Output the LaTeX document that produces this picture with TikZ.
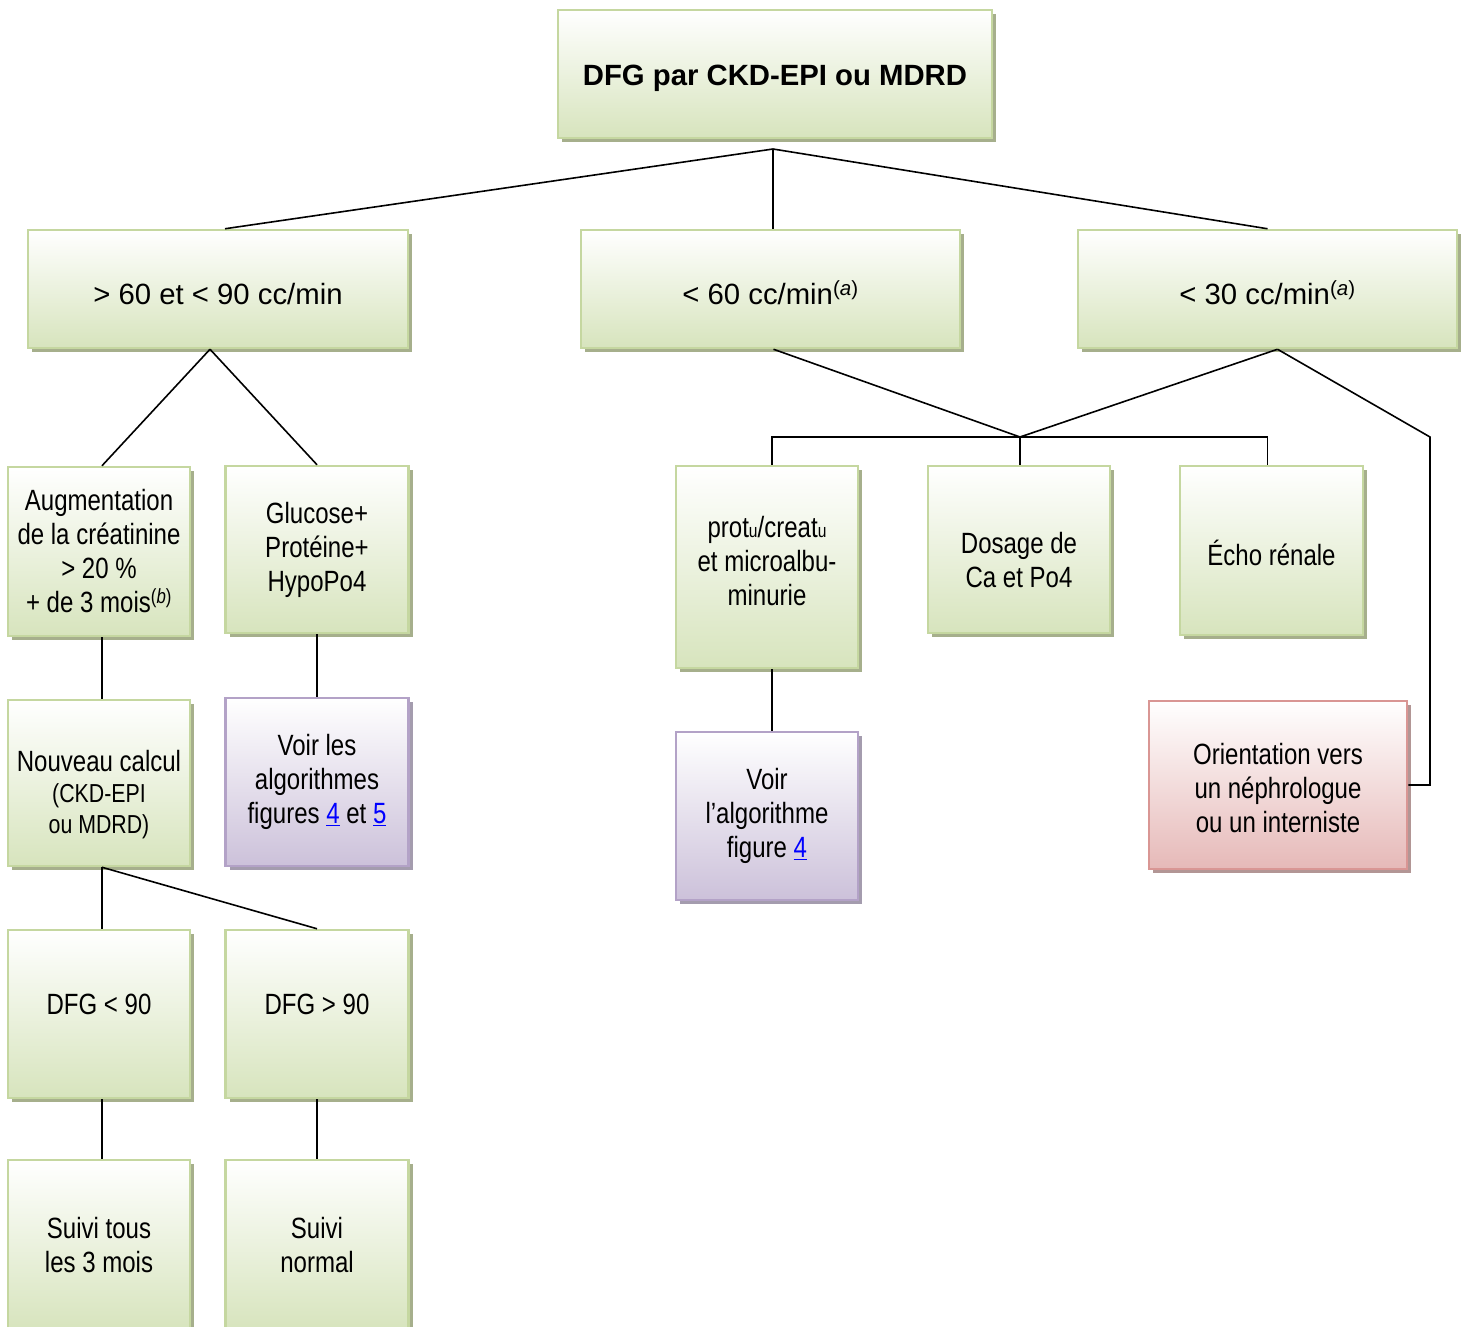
\documentclass[tikz,border=0pt]{standalone}
\usepackage{fontspec}
\setmainfont{Liberation Sans}
\newfontfamily\narrowfont[FakeStretch=0.82]{Liberation Sans}
\usetikzlibrary{shadows}

\definecolor{greenBottom}{RGB}{215,228,189}
\definecolor{greenLine}{RGB}{197,215,160}
\definecolor{greenShadow}{RGB}{166,175,140}
\definecolor{purpleBottom}{RGB}{204,193,218}
\definecolor{purpleLine}{RGB}{179,162,199}
\definecolor{purpleShadow}{RGB}{164,156,174}
\definecolor{redBottom}{RGB}{230,185,184}
\definecolor{redLine}{RGB}{217,150,148}
\definecolor{redShadow}{RGB}{178,150,149}

\newcommand{\noteref}[1]{\textsuperscript{(\textit{#1})}}
\newcommand{\figlink}[1]{\textcolor{blue}{\underline{#1}}}
\newcommand{\smallu}{{\fontsize{19}{19}\selectfont u}}
\newcommand{\pushdown}[1]{\rule{0pt}{#1}}
\newcommand{\pullup}[1]{\rule[-#1]{0pt}{#1}}

\begin{document}
\begin{tikzpicture}[x=1pt, y=-1pt]

        \tikzstyle{card}    = [rectangle, inner sep=0pt, line width=2.5pt, align=center,
            font=\narrowfont\fontsize{29.3}{34}\selectfont]
        \tikzstyle{stage}   = [card, draw=greenLine, top color=white, bottom color=greenBottom,
            general shadow={fill=greenShadow, shadow xshift=4pt, shadow yshift=-4pt}]
        \tikzstyle{see}     = [card, draw=purpleLine, top color=white, bottom color=purpleBottom,
            general shadow={fill=purpleShadow, shadow xshift=4pt, shadow yshift=-4pt}]
        \tikzstyle{refer}   = [card, draw=redLine, top color=white, bottom color=redBottom,
            general shadow={fill=redShadow, shadow xshift=4pt, shadow yshift=-4pt}]
        \tikzstyle{wide}    = [font=\fontsize{29.3}{34}\selectfont]
        \tikzstyle{link}    = [line width=1.6pt]

        \clip (0,0) rectangle (1465,1326);

        \node[stage, minimum width=434, minimum height=128, font=\bfseries\fontsize{29.3}{34}\selectfont]
                                                              at (775,74)      (dfg)       {\pushdown{30pt}DFG par CKD-EPI ou MDRD};
        \node[stage, wide, minimum width=380, minimum height=118] at (218,289)  (mild)      {\pushdown{32pt}> 60 et < 90 cc/min};
        \node[stage, wide, minimum width=379, minimum height=118] at (770.5,289) (moderate) {\pushdown{32pt}< 60 cc/min\noteref{a}};
        \node[stage, wide, minimum width=379, minimum height=118] at (1267.5,289) (severe) {\pushdown{32pt}< 30 cc/min\noteref{a}};

        \node[stage, minimum width=182, minimum height=169] at (99,551.5)   (rise)      {Augmentation\\de la créatinine\\> 20 \%\\+ de 3 mois\noteref{b}};
        \node[stage, minimum width=183, minimum height=167] at (317,549.5)  (tubular)   {Glucose+\\Protéine+\\HypoPo4};
        \node[stage, minimum width=182, minimum height=166] at (99,783)     (recalc)    {\pushdown{44pt}Nouveau calcul\\[-3pt]{\fontsize{26}{31}\selectfont(CKD-EPI}\\[-3pt]{\fontsize{26}{31}\selectfont ou MDRD)}};
        \node[see,   minimum width=183, minimum height=168] at (317,782)    (algoBoth)  {Voir les\\algorithmes\\figures \figlink{4} et \figlink{5}};
        \node[stage, minimum width=182, minimum height=168] at (99,1014)    (below)     {DFG < 90\pullup{20pt}};
        \node[stage, minimum width=183, minimum height=168] at (317,1014)   (above)     {DFG > 90\pullup{20pt}};
        \node[stage, minimum width=182, minimum height=170] at (99,1245)    (quarterly) {Suivi tous\\les 3 mois};
        \node[stage, minimum width=183, minimum height=170] at (317,1245)   (usual)     {Suivi\\normal};

        \node[stage, minimum width=182, minimum height=202] at (767,567)    (proteinuria) {prot\smallu/creat\smallu\\et microalbu-\\minurie\pullup{12pt}};
        \node[stage, minimum width=182, minimum height=167] at (1019,549.5) (calcium)   {\pushdown{43pt}Dosage de\\Ca et Po4};
        \node[stage, minimum width=183, minimum height=169] at (1271.5,550.5) (echo)    {\pushdown{30pt}Écho rénale};
        \node[see,   minimum width=182, minimum height=168] at (767,816)    (algoOne)   {Voir\\l’algorithme\\figure \figlink{4}};
        \node[refer, minimum width=258, minimum height=168] at (1278,785)   (specialist) {\pushdown{28pt}Orientation vers\\un néphrologue\\ou un interniste};

        \coordinate (hub)   at (773,149);
        \coordinate (bus)   at (1020,437);
        \coordinate (elbow) at (1430,437);

        \draw[link] (hub) -- ([xshift=7pt]mild.north);
        \draw[link] (hub) -- (hub |- moderate.north);
        \draw[link] (hub) -- (severe.north);

        \draw[link] ([xshift=-8pt]mild.south) -- ([xshift=3pt]rise.north);
        \draw[link] ([xshift=-8pt]mild.south) -- (tubular.north);
        \draw[link] ([xshift=3pt]rise.south)  -- ([xshift=3pt]recalc.north);
        \draw[link] (tubular.south)           -- (algoBoth.north);
        \draw[link] ([xshift=3pt]recalc.south) -- ([xshift=3pt]below.north);
        \draw[link] ([xshift=3pt]recalc.south) -- (above.north);
        \draw[link] ([xshift=3pt]below.south) -- ([xshift=3pt]quarterly.north);
        \draw[link] (above.south)             -- (usual.north);

        \draw[link] ([xshift=3pt]moderate.south) -- (bus);
        \draw[link] ([xshift=10pt]severe.south)  -- (bus);
        \draw[link] ([xshift=5pt]proteinuria.north) -- ([xshift=5pt]proteinuria.north |- bus)
                    -- ([xshift=-4pt]echo.north |- bus) -- ([xshift=-4pt]echo.north);
        \draw[link] (bus) -- (bus |- calcium.north);
        \draw[link] ([xshift=5pt]proteinuria.south) -- ([xshift=5pt]algoOne.north);
        \draw[link] ([xshift=10pt]severe.south)  -- (elbow) |- (specialist.east);

      \end{tikzpicture}
\end{document}
